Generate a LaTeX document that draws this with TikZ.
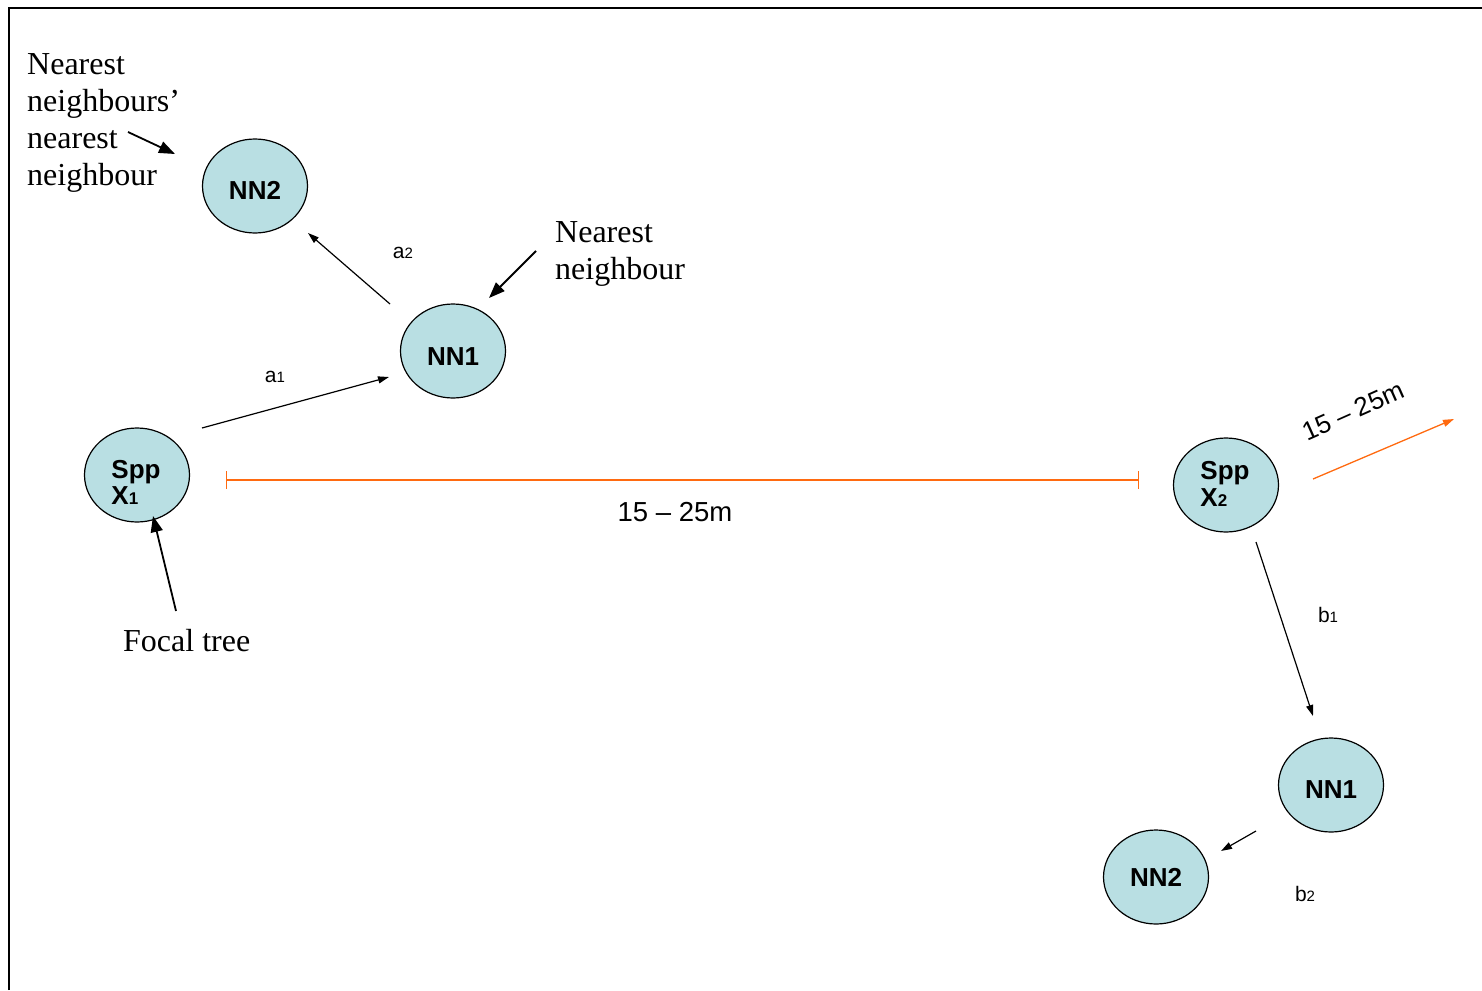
\documentclass[tikz,border=0pt]{standalone}
\usepackage{fontspec}
\setmainfont{Liberation Serif}
\setsansfont{Liberation Sans}
\usetikzlibrary{shapes.geometric,arrows.meta}
\definecolor{nodefill}{HTML}{B9DFE3}
\definecolor{orng}{HTML}{FF6A10}
\tikzset{
  tree/.style={ellipse, draw=black, line width=1.2pt, fill=nodefill, minimum width=105pt, minimum height=94pt, inner sep=0pt, font=\fontsize{26}{29}\selectfont\sffamily\bfseries},
  thin arrow/.style={line width=1.2pt, -{Triangle[length=11pt,width=7pt]}},
  thick arrow/.style={line width=1.8pt, -{Triangle[length=16pt,width=12pt]}},
  serif label/.style={font=\fontsize{32}{37}\selectfont\rmfamily, align=left, inner sep=0pt},
  small label/.style={font=\fontsize{21}{23}\selectfont\sffamily, inner sep=0pt},
  dist label/.style={font=\fontsize{27.5}{29}\selectfont\sffamily, inner sep=0pt},
}
\newcommand{\sbs}[1]{{\fontsize{15}{16}\selectfont #1}}
\newcommand{\nsbs}[1]{{\fontsize{17}{18}\selectfont #1}}
\newcommand{\dn}[2]{\raisebox{-#1}[\height][\depth]{\begin{tabular}{@{}l@{}}#2\end{tabular}}}
\newcommand{\lw}[2]{\raisebox{-#1}[\height][\depth]{#2}}
\begin{document}
\begin{tikzpicture}[x=1pt,y=-1pt]
\useasboundingbox (0,0) rectangle (1482,990);
\draw[line width=1.8pt] (9,990) -- (9,8) -- (1482,8);

% nodes
\node[tree] (nn2a) at (255,186) {\lw{4pt}{NN2}};
\node[tree] (nn1a) at (453,351) {\lw{6pt}{NN1}};
\node[tree] (sppx1) at (137,475) {\hspace{-2pt}\dn{11pt}{Spp\\[-3pt]X\nsbs{1}\hspace{0.5em}}};
\node[tree] (sppx2) at (1226,485) {\hspace{-2pt}\dn{2pt}{Spp\\[-2pt]X\nsbs{2}\hspace{0.5em}}};
\node[tree] (nn1b) at (1331,785) {\lw{5pt}{NN1}};
\node[tree] (nn2b) at (1156,877) {NN2};

% texts
\node[serif label, anchor=north west] (t1) at (27,53) {Nearest\\neighbours'\\nearest\\neighbour};
\node[serif label, anchor=north west] (t2) at (555,221) {Nearest\\neighbour};
\node[serif label, anchor=north west] (t3) at (123,629) {Focal tree};

% arrow endpoints
\coordinate (a1s) at (202,428); \coordinate (a1e) at (389,377);
\coordinate (a2s) at (390,304); \coordinate (a2e) at (308,233);
\coordinate (nns) at (536,251); \coordinate (nne) at (489,298);
\coordinate (nnns) at (128,132); \coordinate (nnne) at (175,154);
\coordinate (fts) at (176,611); \coordinate (fte) at (153,516);
\coordinate (ors) at (226,480); \coordinate (ore) at (1139,480);
\coordinate (oas) at (1313,479); \coordinate (oae) at (1454,419);
\coordinate (b1s) at (1256,542); \coordinate (b1e) at (1313,716);
\coordinate (b2s) at (1256,831); \coordinate (b2e) at (1221,851);

\draw[thin arrow] (a1s) -- (a1e);
\draw[thin arrow] (a2s) -- (a2e);
\draw[thick arrow] (nns) -- (nne);
\draw[thick arrow] (nnns) -- (nnne);
\draw[thick arrow] (fts) -- (fte);
\draw[thin arrow] (b1s) -- (b1e);
\draw[thin arrow] (b2s) -- (b2e);
\draw[orng, line width=1.3pt, {Bar[width=18pt]}-{Bar[width=18pt]}] (ors) -- (ore);
\draw[orng, line width=1.3pt, -{Triangle[length=11pt,width=7pt]}] (oas) -- (oae);

% labels
\node[small label] (la1) at (275,377) {a\sbs{1}};
\node[small label] (la2) at (403,253) {a\sbs{2}};
\node[small label] (lb1) at (1328,615) {b\sbs{1}};
\node[small label] (lb2) at (1305,894) {b\sbs{2}};
\node[dist label] (d1) at (675,512) {15 -- 25m};
\node[dist label, font=\fontsize{26}{28}\selectfont\sffamily, rotate=24] (d2) at (1353,411) {15 -- 25m};
\end{tikzpicture}
\end{document}
